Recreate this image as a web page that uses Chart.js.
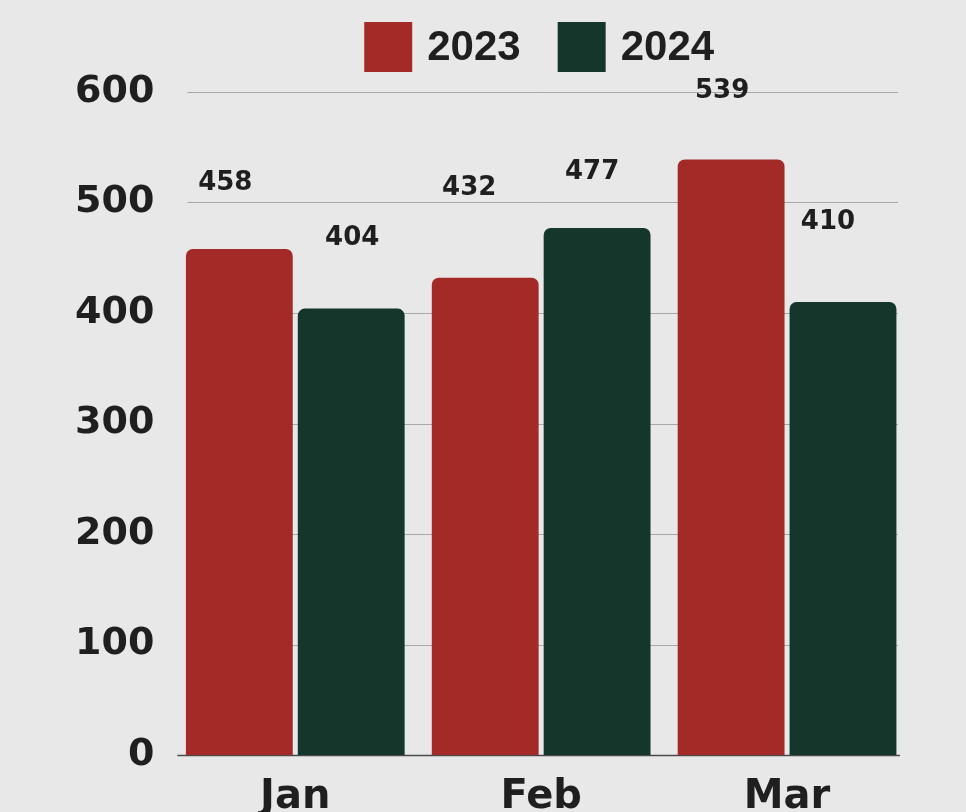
<!DOCTYPE html>
<html><head><meta charset="utf-8">
<script src="https://cdn.jsdelivr.net/npm/chart.js@4.4.1/dist/chart.umd.min.js"></script>
<style>html,body{margin:0;padding:0;background:#e8e8e8;overflow:hidden}</style>
</head><body>
<canvas id="c" width="966" height="812"></canvas>
<script>
const categories = ['Jan', 'Feb', 'Mar'];
const seriesNames = ['2023', '2024'];
const values2023 = [458, 432, 539];
const values2024 = [404, 477, 410];
const yTicks = [0, 100, 200, 300, 400, 500, 600];

const colors = ['#a42a28', '#15362a'];
const textColor = '#1f1f1f';
// label placement relative to each bar's top (style only)
const labelShift = [
  [[-14, -66], [-16, -89], [-9, -68]],
  [[1, -70], [-5, -56], [-15, -80]]
];

const gridPlugin = {
  id: 'grid',
  beforeDatasetsDraw(chart) {
    const {ctx, chartArea: a, scales: {y}} = chart;
    ctx.save();
    yTicks.forEach(v => {
      const py = Math.round(y.getPixelForValue(v)) + 0.5;
      ctx.beginPath();
      if (v === 0) {
        ctx.strokeStyle = '#4a4a4a'; ctx.lineWidth = 1.5;
        ctx.moveTo(a.left + 5, py); ctx.lineTo(a.right - 10, py);
      } else {
        ctx.strokeStyle = '#a8a8a8'; ctx.lineWidth = 1;
        ctx.moveTo(a.left + 15, py); ctx.lineTo(a.right - 12, py);
      }
      ctx.stroke();
    });
    ctx.restore();
  }
};

const labelPlugin = {
  id: 'vlabels',
  afterDatasetsDraw(chart) {
    const ctx = chart.ctx;
    ctx.save();
    ctx.font = 'bold 26px "DejaVu Sans"';
    ctx.fillStyle = textColor;
    ctx.textAlign = 'center';
    ctx.textBaseline = 'middle';
    chart.data.datasets.forEach((ds, di) => {
      chart.getDatasetMeta(di).data.forEach((bar, i) => {
        const s = labelShift[di][i];
        ctx.fillText(String(ds.data[i]), bar.x + s[0], bar.y + s[1]);
      });
    });
    ctx.restore();
  }
};

const legendPlugin = {
  id: 'customLegend',
  afterDraw(chart) {
    const {ctx, chartArea: a} = chart;
    ctx.save();
    ctx.font = 'bold 42px "Liberation Sans", Arial, sans-serif';
    const boxW = 48, boxH = 50, gapText = 15, gapItem = 37;
    const items = chart.data.datasets.map(ds => ({label: ds.label, color: ds.backgroundColor, w: ctx.measureText(ds.label).width}));
    let total = 0;
    items.forEach((it, i) => { total += boxW + gapText + it.w + (i < items.length - 1 ? gapItem : 0); });
    let x = (a.left + a.right) / 2 - total / 2 - 2;
    const top = 22;
    items.forEach(it => {
      ctx.fillStyle = it.color;
      ctx.fillRect(x, top, boxW, boxH);
      ctx.fillStyle = textColor;
      ctx.textBaseline = 'middle';
      ctx.textAlign = 'left';
      ctx.fillText(it.label, x + boxW + gapText, top + boxH / 2 + 1);
      x += boxW + gapText + it.w + gapItem;
    });
    ctx.restore();
  }
};

new Chart(document.getElementById('c'), {
  type: 'bar',
  data: {
    labels: categories,
    datasets: [
      {label: seriesNames[0], data: values2023, backgroundColor: colors[0]},
      {label: seriesNames[1], data: values2024, backgroundColor: colors[1]}
    ]
  },
  options: {
    responsive: false,
    devicePixelRatio: 1,
    animation: false,
    layout: {padding: {left: 57, right: 56, top: 92, bottom: -29}},
    datasets: {
      bar: {
        categoryPercentage: 0.91,
        barPercentage: 0.955,
        borderRadius: {topLeft: 7, topRight: 7, bottomLeft: 0, bottomRight: 0},
        borderSkipped: 'bottom'
      }
    },
    plugins: {legend: {display: false}, tooltip: {enabled: false}},
    scales: {
      x: {
        grid: {display: false, drawTicks: false},
        border: {display: false},
        ticks: {color: textColor, padding: 19, font: {family: 'DejaVu Sans', weight: 'bold', size: 40}}
      },
      y: {
        min: 0, max: 600,
        afterBuildTicks(scale) { scale.ticks = yTicks.map(v => ({value: v})); },
        grid: {display: false, drawTicks: false},
        border: {display: false},
        ticks: {color: textColor, padding: 18, font: {family: 'DejaVu Sans', weight: 'bold', size: 38}}
      }
    }
  },
  plugins: [gridPlugin, labelPlugin, legendPlugin]
});
</script>
</body></html>
